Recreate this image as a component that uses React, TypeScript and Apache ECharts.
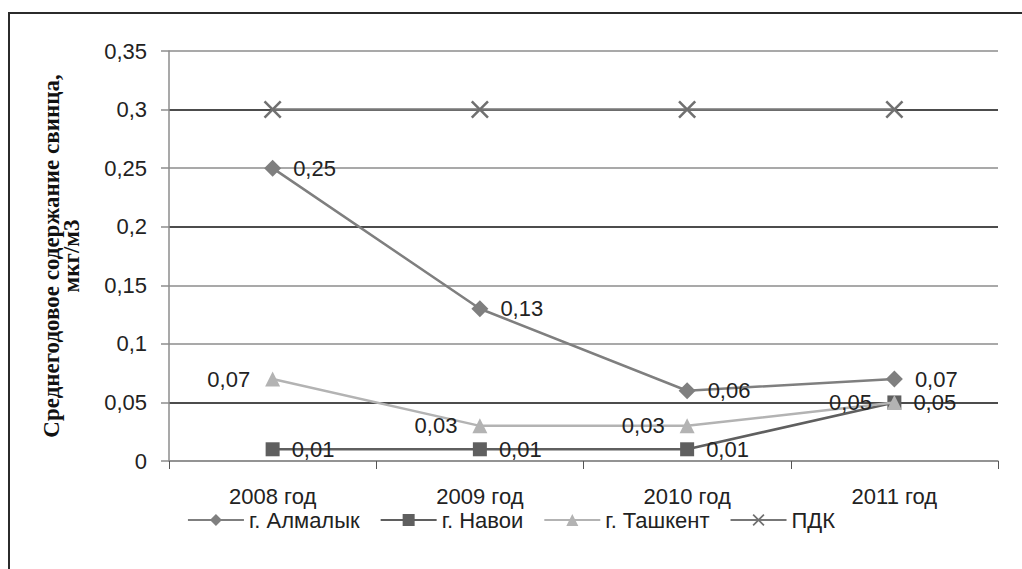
import React, { useEffect, useRef } from "react";
import * as echarts from "echarts";

const years = ["2008 год", "2009 год", "2010 год", "2011 год"];
const almalyk = [0.25, 0.13, 0.06, 0.07];
const navoi = [0.01, 0.01, 0.01, 0.05];
const tashkent = [0.07, 0.03, 0.03, 0.05];
const pdk = [0.3, 0.3, 0.3, 0.3];
const yTicks = [0, 0.05, 0.1, 0.15, 0.2, 0.25, 0.3, 0.35];

const fmt = (v: number) => String(v).replace(".", ",");

// thick "X" glyph used for the ПДК markers
const crossPath =
  "path://M2,0 L10,8 L18,0 L20,2 L12,10 L20,18 L18,20 L10,12 L2,20 L0,18 L8,10 L0,2 Z";

const SANS = "Liberation Sans, Arial, sans-serif";
const FS = 22;

export default function App() {
  const ref = useRef<HTMLDivElement>(null);

  useEffect(() => {
    const chart = echarts.init(ref.current!, null, { renderer: "svg" });
    const labelStyle = {
      show: true,
      fontFamily: SANS,
      fontSize: FS,
      color: "#222",
      formatter: (p: any) => fmt(p.value),
    };
    // dark lines at 0.05, 0.2 and 0.3; light grey elsewhere
    const gridColors = yTicks.map((t) =>
      t === 0.05 || t === 0.2 || t === 0.3 ? "#111" : "#8c8c8c"
    );
    chart.setOption({
      animation: false,
      backgroundColor: "#fff",
      textStyle: { fontFamily: SANS },
      grid: { left: 169, right: 24, top: 51, bottom: 108 },
      graphic: [
        {
          type: "rect",
          shape: { x: 9, y: 13, width: 1100, height: 700 },
          style: { fill: "none", stroke: "#2b2b2b", lineWidth: 2 },
          silent: true,
        },
      ],
      legend: {
        bottom: 33,
        left: "center",
        itemWidth: 56,
        itemHeight: 15,
        itemGap: 20,
        textStyle: { fontSize: FS, color: "#222", fontFamily: SANS },
        data: ["г. Алмалык", "г. Навои", "г. Ташкент", "ПДК"],
      },
      xAxis: {
        type: "category",
        data: years,
        boundaryGap: true,
        axisLine: { lineStyle: { color: "#8c8c8c", width: 1.5 } },
        axisTick: { show: true, length: 8, lineStyle: { color: "#555" } },
        axisLabel: { fontSize: FS, color: "#222", margin: 24, fontFamily: SANS },
        splitLine: { show: false },
      },
      yAxis: {
        type: "value",
        min: 0,
        max: 0.35,
        interval: 0.05,
        name: "Среднегодовое содержание свинца,\nмкг/м3",
        nameLocation: "middle",
        nameRotate: 90,
        nameGap: 88,
        nameTextStyle: {
          fontFamily: "Liberation Serif, Times New Roman, serif",
          fontWeight: "bold",
          fontSize: 23,
          color: "#111",
          lineHeight: 20,
        },
        axisLine: { show: true, lineStyle: { color: "#8c8c8c", width: 1.5 } },
        axisTick: { show: true, length: 8, lineStyle: { color: "#8c8c8c", width: 1.5 } },
        axisLabel: {
          fontSize: FS,
          color: "#222",
          margin: 22,
          fontFamily: SANS,
          formatter: (v: number) => fmt(+v.toFixed(2)),
        },
        splitLine: { show: true, lineStyle: { color: gridColors, width: 1.6 } },
      },
      series: [
        {
          name: "ПДК",
          type: "line",
          data: pdk,
          symbol: crossPath,
          symbolSize: 18,
          itemStyle: { color: "#707070" },
          lineStyle: { color: "#777", width: 2.5 },
          z: 3,
        },
        {
          name: "г. Алмалык",
          type: "line",
          data: almalyk,
          symbol: "diamond",
          symbolSize: 17,
          itemStyle: { color: "#7f7f7f" },
          lineStyle: { color: "#7f7f7f", width: 2.5 },
          label: { ...labelStyle, position: "right", distance: 12 },
          z: 4,
        },
        {
          name: "г. Навои",
          type: "line",
          data: navoi,
          symbol: "rect",
          symbolSize: 14,
          itemStyle: { color: "#5f5f5f" },
          lineStyle: { color: "#5f5f5f", width: 2.5 },
          label: { ...labelStyle, position: "right", distance: 12 },
          z: 4,
        },
        {
          name: "г. Ташкент",
          type: "line",
          data: tashkent,
          symbol: "triangle",
          symbolSize: 15,
          itemStyle: { color: "#b3b3b3" },
          lineStyle: { color: "#b3b3b3", width: 2.5 },
          label: { ...labelStyle, position: "left", distance: 15 },
          z: 5,
        },
      ],
    });
    return () => chart.dispose();
  }, []);

  return (
    <div
      ref={ref}
      style={{ position: "absolute", left: 0, top: 0, width: 1022, height: 569 }}
    />
  );
}
